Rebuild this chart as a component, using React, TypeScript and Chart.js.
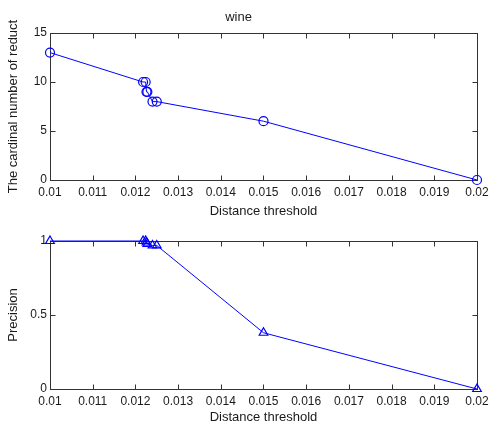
import React, { useEffect, useRef } from "react";
import { Chart, registerables } from "chart.js";
Chart.register(...registerables);

const chartTitle = "wine";
const xLabel = "Distance threshold";
const topYLabel = "The cardinal number of reduct";
const bottomYLabel = "Precision";
const thresholds = [0.01, 0.01218, 0.01224, 0.01226, 0.01228, 0.0124, 0.0125, 0.015, 0.02];
const reductSizes = [13, 10, 10, 9, 9, 8, 8, 6, 0];
const precisions = [1, 1, 1, 0.99, 0.98, 0.97, 0.97, 0.38, 0];

const FONT = "'Liberation Sans', Arial, sans-serif";
const BLUE = "#0000ff";
const TEXT = "#1a1a1a";
const AXIS = "#333333";

const matlabBox = {
  id: "matlabBox",
  beforeDatasetsDraw(chart: any) {
    const { ctx, chartArea, scales } = chart;
    const { left, right, top, bottom } = chartArea;
    const L = Math.round(left) + 0.5;
    const R = Math.round(right) + 0.5;
    const T = Math.round(top) + 0.5;
    const B = Math.round(bottom) + 0.5;
    ctx.save();
    ctx.strokeStyle = AXIS;
    ctx.lineWidth = 1;
    ctx.strokeRect(L, T, R - L, B - T);
    const len = 5;
    ctx.beginPath();
    scales.x.ticks.forEach((t: any) => {
      const px = Math.round(scales.x.getPixelForValue(t.value)) + 0.5;
      ctx.moveTo(px, B);
      ctx.lineTo(px, B - len);
      ctx.moveTo(px, T);
      ctx.lineTo(px, T + len);
    });
    scales.y.ticks.forEach((t: any) => {
      const py = Math.round(scales.y.getPixelForValue(t.value)) + 0.5;
      ctx.moveTo(L, py);
      ctx.lineTo(L + len, py);
      ctx.moveTo(R, py);
      ctx.lineTo(R - len, py);
    });
    ctx.stroke();
    ctx.restore();
  },
};

function makeConfig(opts: {
  values: number[];
  yMax: number;
  yStep: number;
  yLabel: string;
  pointStyle: string;
  radius: number;
  padding: { top: number; bottom: number };
  xScaleHeight: number;
  title?: string;
}) {
  const data = thresholds.map((x, i) => ({ x, y: opts.values[i] }));
  return {
    type: "line" as const,
    data: {
      datasets: [
        {
          data,
          borderColor: BLUE,
          borderWidth: 1,
          backgroundColor: "rgba(0,0,0,0)",
          pointStyle: opts.pointStyle,
          pointRadius: opts.radius,
          pointBorderColor: BLUE,
          pointBorderWidth: 1.2,
          pointBackgroundColor: "rgba(0,0,0,0)",
          tension: 0,
          fill: false,
          clip: false as any,
        },
      ],
    },
    options: {
      responsive: false,
      animation: false as const,
      devicePixelRatio: 1,
      layout: { padding: { left: 0, right: 17, top: opts.padding.top, bottom: opts.padding.bottom } },
      plugins: {
        legend: { display: false },
        tooltip: { enabled: false },
        title: opts.title
          ? {
              display: true,
              text: opts.title,
              color: TEXT,
              font: { family: FONT, size: 13, weight: "normal" as const },
              padding: { top: 10, bottom: 7.4 },
            }
          : { display: false },
      },
      scales: {
        x: {
          type: "linear" as const,
          min: 0.01,
          max: 0.02,
          grid: { display: false, drawTicks: false },
          border: { display: false },
          ticks: {
            stepSize: 0.001,
            padding: 5,
            color: TEXT,
            font: { family: FONT, size: 12 },
            maxRotation: 0,
            autoSkip: false,
            callback: (v: any) => String(+Number(v).toFixed(3)),
          },
          title: {
            display: true,
            text: xLabel,
            color: TEXT,
            font: { family: FONT, size: 13 },
            padding: { top: 0, bottom: 1 },
          },
          afterFit: (s: any) => {
            s.height = opts.xScaleHeight;
          },
        },
        y: {
          type: "linear" as const,
          min: 0,
          max: opts.yMax,
          grid: { display: false, drawTicks: false },
          border: { display: false },
          ticks: {
            stepSize: opts.yStep,
            padding: 3,
            color: TEXT,
            font: { family: FONT, size: 12 },
            callback: (v: any) => String(+Number(v).toFixed(2)),
          },
          title: {
            display: true,
            text: opts.yLabel,
            color: TEXT,
            font: { family: FONT, size: 13 },
            padding: { top: 6, bottom: 0 },
          },
          afterFit: (s: any) => {
            s.width = 50;
          },
        },
      },
    },
    plugins: [matlabBox],
  };
}

export default function App() {
  const topRef = useRef<HTMLCanvasElement>(null);
  const botRef = useRef<HTMLCanvasElement>(null);
  useEffect(() => {
    const c1 = new Chart(
      topRef.current as HTMLCanvasElement,
      makeConfig({
        values: reductSizes,
        yMax: 15,
        yStep: 5,
        yLabel: topYLabel,
        pointStyle: "circle",
        radius: 4.5,
        padding: { top: 0, bottom: 206 },
        xScaleHeight: 40,
        title: chartTitle,
      }) as any
    );
    const c2 = new Chart(
      botRef.current as HTMLCanvasElement,
      makeConfig({
        values: precisions,
        yMax: 1,
        yStep: 0.5,
        yLabel: bottomYLabel,
        pointStyle: "triangle",
        radius: 5,
        padding: { top: 241, bottom: 0 },
        xScaleHeight: 37,
      }) as any
    );
    return () => {
      c1.destroy();
      c2.destroy();
    };
  }, []);
  const style: React.CSSProperties = {
    position: "absolute",
    left: 0,
    top: 0,
    width: 494,
    height: 426,
  };
  return (
    <div>
      <canvas ref={topRef} width={494} height={426} style={style} />
      <canvas ref={botRef} width={494} height={426} style={style} />
    </div>
  );
}
